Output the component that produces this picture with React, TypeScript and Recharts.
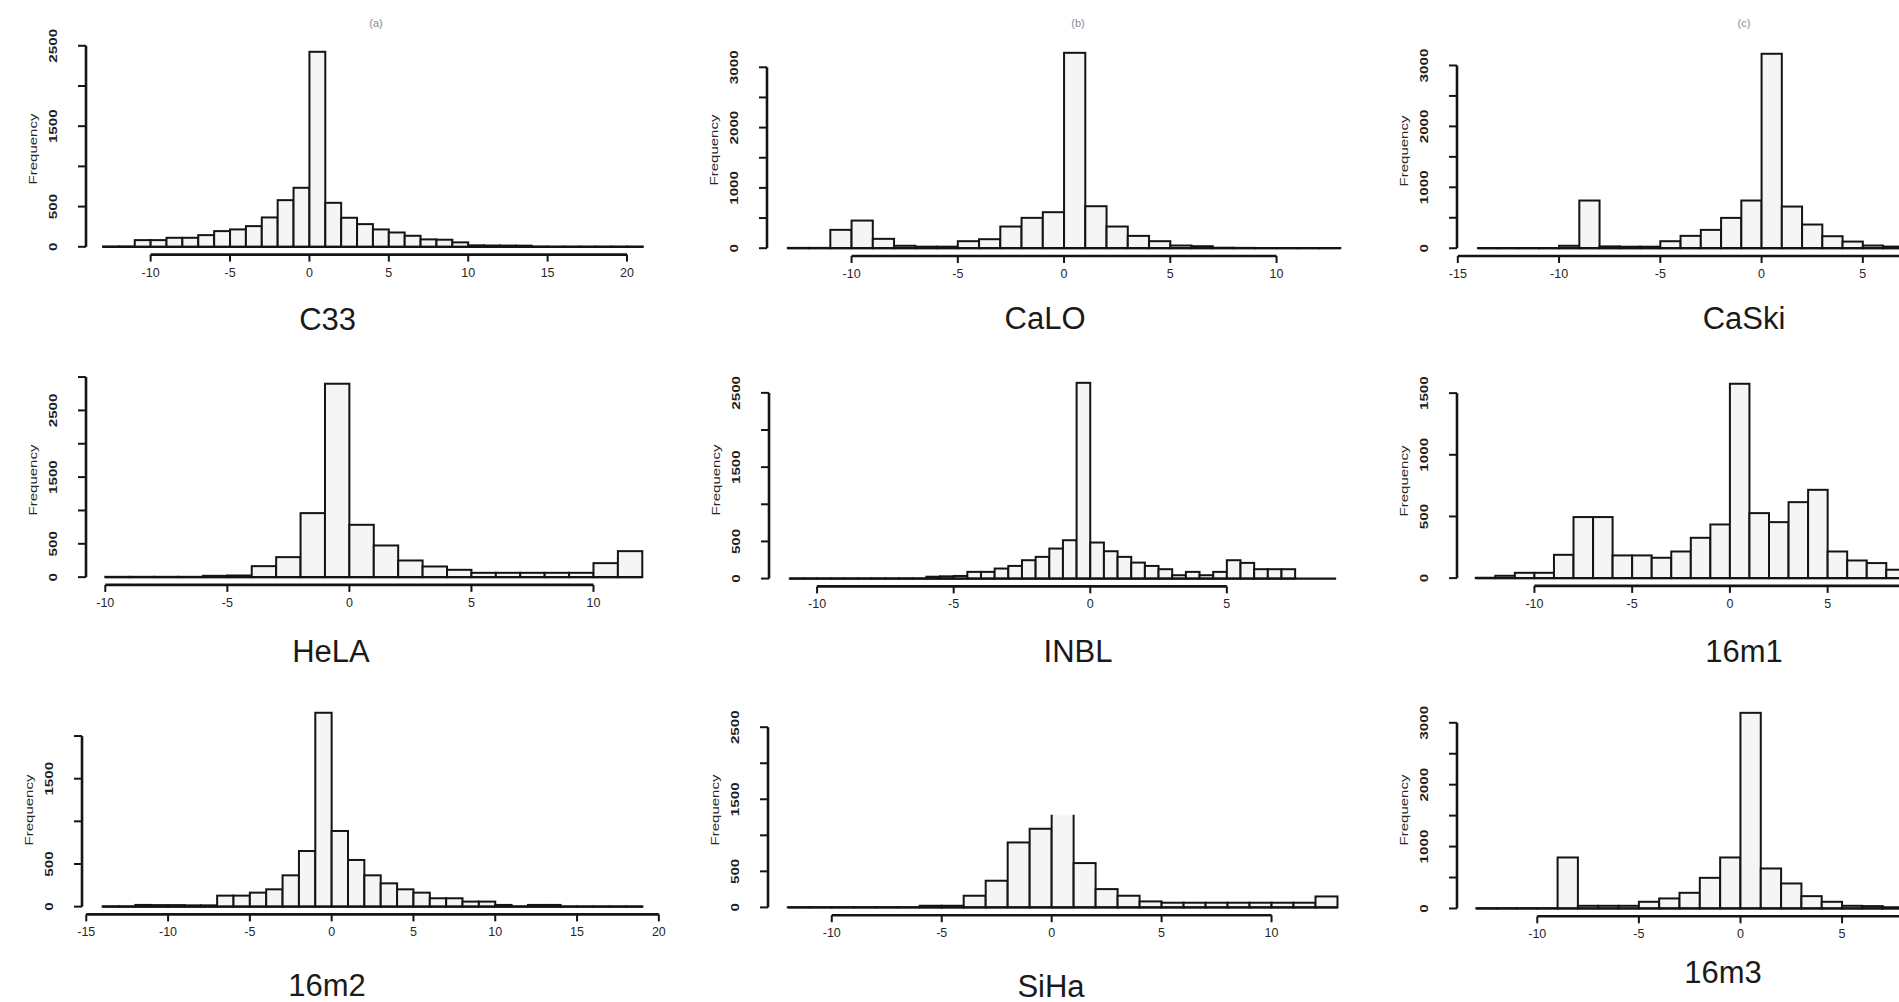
import React from 'react';
import { ComposedChart, Bar, XAxis, YAxis, ReferenceLine } from 'recharts';

// ---------- C33 ----------
const c33Breaks = [-13, -12, -11, -10, -9, -8, -7, -6, -5, -4, -3, -2, -1, 0, 1, 2, 3, 4, 5, 6, 7, 8, 9, 10, 11, 12, 13, 14, 15, 16, 17, 18, 19, 20, 21];
const c33Counts = [3, 4, 83, 83, 112, 112, 145, 195, 216, 257, 365, 580, 734, 2425, 547, 361, 282, 216, 178, 137, 92, 88, 55, 18, 16, 15, 14, 3, 2, 2, 2, 2, 2, 2];
const c33XTicks = [-10, -5, 0, 5, 10, 15, 20];
const c33XLabels = [-10, -5, 0, 5, 10, 15, 20];
const c33YTicks = [0, 500, 1000, 1500, 2000, 2500];
const c33YLabels = [0, 500, 1500, 2500];
const c33XLim = [-14.07, 22.36];
const c33YLim = [0, 2425];

// ---------- CaLO ----------
const caloBreaks = [-13, -12, -11, -10, -9, -8, -7, -6, -5, -4, -3, -2, -1, 0, 1, 2, 3, 4, 5, 6, 7, 8, 9, 10, 11, 12, 13];
const caloCounts = [5, 5, 304, 458, 155, 40, 25, 25, 116, 149, 359, 503, 597, 3240, 696, 359, 204, 116, 44, 33, 8, 5, 3, 3, 3, 3];
const caloXTicks = [-10, -5, 0, 5, 10];
const caloXLabels = [-10, -5, 0, 5, 10];
const caloYTicks = [0, 500, 1000, 1500, 2000, 2500, 3000];
const caloYLabels = [0, 1000, 2000, 3000];
const caloXLim = [-13.98, 14.04];
const caloYLim = [0, 3240];

// ---------- CaSki ----------
const caskiBreaks = [-14, -13, -12, -11, -10, -9, -8, -7, -6, -5, -4, -3, -2, -1, 0, 1, 2, 3, 4, 5, 6, 7, 8, 9, 10, 11];
const caskiCounts = [3, 3, 3, 3, 40, 783, 30, 25, 25, 115, 203, 301, 498, 783, 3192, 684, 389, 197, 109, 44, 27, 20, 10, 5, 3];
const caskiXTicks = [-15, -10, -5, 0, 5, 10];
const caskiXLabels = [-15, -10, -5, 0, 5];
const caskiYTicks = [0, 500, 1000, 1500, 2000, 2500, 3000];
const caskiYLabels = [0, 1000, 2000, 3000];
const caskiXLim = [-15.04, 12];
const caskiYLim = [0, 3192];

// ---------- HeLA ----------
const helaBreaks = [-10, -9, -8, -7, -6, -5, -4, -3, -2, -1, 0, 1, 2, 3, 4, 5, 6, 7, 8, 9, 10, 11, 12];
const helaCounts = [5, 5, 5, 5, 20, 25, 165, 300, 960, 2900, 785, 475, 250, 160, 110, 65, 65, 65, 65, 65, 210, 390];
const helaXTicks = [-10, -5, 0, 5, 10];
const helaXLabels = [-10, -5, 0, 5, 10];
const helaYTicks = [0, 500, 1000, 1500, 2000, 2500, 3000];
const helaYLabels = [0, 500, 1500, 2500];
const helaXLim = [-10.79, 12.88];
const helaYLim = [0, 2900];

// ---------- INBL ----------
const inblBreaks = [-11, -10.5, -10, -9.5, -9, -8.5, -8, -7.5, -7, -6.5, -6, -5.5, -5, -4.5, -4, -3.5, -3, -2.5, -2, -1.5, -1, -0.5, 0, 0.5, 1, 1.5, 2, 2.5, 3, 3.5, 4, 4.5, 5, 5.5, 6, 6.5, 7, 7.5, 8, 8.5, 9];
const inblCounts = [2, 2, 2, 2, 2, 2, 2, 2, 2, 2, 25, 30, 35, 90, 90, 135, 170, 247, 292, 404, 516, 2635, 485, 368, 292, 215, 170, 126, 45, 90, 45, 90, 247, 211, 126, 126, 126, 0, 0, 0];
const inblXTicks = [-10, -5, 0, 5];
const inblXLabels = [-10, -5, 0, 5];
const inblYTicks = [0, 500, 1000, 1500, 2000, 2500];
const inblYLabels = [0, 500, 1500, 2500];
const inblXLim = [-11.76, 9.8];
const inblYLim = [0, 2635];

// ---------- 16m1 ----------
const m1Breaks = [-13, -12, -11, -10, -9, -8, -7, -6, -5, -4, -3, -2, -1, 0, 1, 2, 3, 4, 5, 6, 7, 8, 9, 10];
const m1Counts = [3, 19, 43, 43, 189, 495, 495, 184, 184, 165, 216, 327, 435, 1576, 527, 454, 616, 716, 216, 143, 122, 68, 40];
const m1XTicks = [-10, -5, 0, 5, 10];
const m1XLabels = [-10, -5, 0, 5];
const m1YTicks = [0, 500, 1000, 1500];
const m1YLabels = [0, 500, 1000, 1500];
const m1XLim = [-13.96, 10.92];
const m1YLim = [0, 1576];

// ---------- 16m2 ----------
const m2Breaks = [-14, -13, -12, -11, -10, -9, -8, -7, -6, -5, -4, -3, -2, -1, 0, 1, 2, 3, 4, 5, 6, 7, 8, 9, 10, 11, 12, 13, 14, 15, 16, 17, 18, 19];
const m2Counts = [3, 3, 20, 18, 18, 15, 15, 129, 129, 164, 203, 367, 652, 2273, 887, 547, 367, 273, 203, 164, 98, 98, 59, 59, 20, 3, 20, 20, 2, 2, 2, 2, 2];
const m2XTicks = [-15, -10, -5, 0, 5, 10, 15, 20];
const m2XLabels = [-15, -10, -5, 0, 5, 10, 15, 20];
const m2YTicks = [0, 500, 1000, 1500, 2000];
const m2YLabels = [0, 500, 1500];
const m2XLim = [-15.26, 20.32];
const m2YLim = [0, 2273];

// ---------- SiHa ----------
const sihaBreaks = [-12, -11, -10, -9, -8, -7, -6, -5, -4, -3, -2, -1, 0, 1, 2, 3, 4, 5, 6, 7, 8, 9, 10, 11, 12, 13];
const sihaCounts = [2, 2, 2, 2, 2, 2, 23, 23, 162, 370, 901, 1091, 1285, 615, 254, 162, 83, 65, 65, 65, 65, 65, 65, 65, 152];
const sihaXTicks = [-10, -5, 0, 5, 10];
const sihaXLabels = [-10, -5, 0, 5, 10];
const sihaYTicks = [0, 500, 1000, 1500, 2000, 2500];
const sihaYLabels = [0, 500, 1500, 2500];
const sihaXLim = [-12.9, 14];
const sihaYLim = [0, 2700];

// ---------- 16m3 ----------
const m3Breaks = [-13, -12, -11, -10, -9, -8, -7, -6, -5, -4, -3, -2, -1, 0, 1, 2, 3, 4, 5, 6, 7, 8, 9, 10, 11];
const m3Counts = [3, 3, 3, 3, 824, 43, 43, 43, 108, 162, 253, 495, 824, 3161, 646, 404, 199, 108, 43, 38, 20, 10, 5, 3];
const m3XTicks = [-10, -5, 0, 5, 10];
const m3XLabels = [-10, -5, 0, 5];
const m3YTicks = [0, 500, 1000, 1500, 2000, 2500, 3000];
const m3YLabels = [0, 1000, 2000, 3000];
const m3XLim = [-13.95, 11.96];
const m3YLim = [0, 3161];

const panelNames = ['C33', 'CaLO', 'CaSki', 'HeLA', 'INBL', '16m1', '16m2', 'SiHa', '16m3'];
const smallTags = ['(a)', '(b)', '(c)'];

const FONT = '"Liberation Sans", Arial, Helvetica, sans-serif';
const INK = '#141414';
const BAR_FILL = '#f5f5f5';
const Y_AXIS_W = 80;
const X_AXIS_H = 40;
const TOP_PAD = 24;
const RIGHT_PAD = 24;

const panels = [
  { name: panelNames[0], breaks: c33Breaks, counts: c33Counts, xTicks: c33XTicks, xLabels: c33XLabels, yTicks: c33YTicks, yLabels: c33YLabels, xlim: c33XLim, ylim: c33YLim, openTop: [] as number[], box: { left: 86, top: 43.9, width: 578.5, height: 210.6 }, title: { x: 327.6, y: 319 } },
  { name: panelNames[1], breaks: caloBreaks, counts: caloCounts, xTicks: caloXTicks, xLabels: caloXLabels, yTicks: caloYTicks, yLabels: caloYLabels, xlim: caloXLim, ylim: caloYLim, openTop: [] as number[], box: { left: 767, top: 44.5, width: 595.4, height: 211 }, title: { x: 1045, y: 318 } },
  { name: panelNames[2], breaks: caskiBreaks, counts: caskiCounts, xTicks: caskiXTicks, xLabels: caskiXLabels, yTicks: caskiYTicks, yLabels: caskiYLabels, xlim: caskiXLim, ylim: caskiYLim, openTop: [] as number[], box: { left: 1457, top: 45.5, width: 547.6, height: 210 }, title: { x: 1744, y: 318 } },
  { name: panelNames[3], breaks: helaBreaks, counts: helaCounts, xTicks: helaXTicks, xLabels: helaXLabels, yTicks: helaYTicks, yLabels: helaYLabels, xlim: helaXLim, ylim: helaYLim, openTop: [] as number[], box: { left: 86, top: 375.5, width: 577.8, height: 208.9 }, title: { x: 331, y: 651 } },
  { name: panelNames[4], breaks: inblBreaks, counts: inblCounts, xTicks: inblXTicks, xLabels: inblXLabels, yTicks: inblYTicks, yLabels: inblYLabels, xlim: inblXLim, ylim: inblYLim, openTop: [] as number[], box: { left: 769, top: 374.7, width: 589, height: 211.4 }, title: { x: 1078, y: 651 } },
  { name: panelNames[5], breaks: m1Breaks, counts: m1Counts, xTicks: m1XTicks, xLabels: m1XLabels, yTicks: m1YTicks, yLabels: m1YLabels, xlim: m1XLim, ylim: m1YLim, openTop: [] as number[], box: { left: 1457, top: 375.6, width: 486.4, height: 209.9 }, title: { x: 1744, y: 651 } },
  { name: panelNames[6], breaks: m2Breaks, counts: m2Counts, xTicks: m2XTicks, xLabels: m2XLabels, yTicks: m2YTicks, yLabels: m2YLabels, xlim: m2XLim, ylim: m2YLim, openTop: [] as number[], box: { left: 82.4, top: 705.1, width: 582.1, height: 209.4 }, title: { x: 327, y: 985 } },
  { name: panelNames[7], breaks: sihaBreaks, counts: sihaCounts, xTicks: sihaXTicks, xLabels: sihaXLabels, yTicks: sihaYTicks, yLabels: sihaYLabels, xlim: sihaXLim, ylim: sihaYLim, openTop: [12], box: { left: 768, top: 705.2, width: 591.5, height: 210.2 }, title: { x: 1051, y: 986 } },
  { name: panelNames[8], breaks: m3Breaks, counts: m3Counts, xTicks: m3XTicks, xLabels: m3XLabels, yTicks: m3YTicks, yLabels: m3YLabels, xlim: m3XLim, ylim: m3YLim, openTop: [] as number[], box: { left: 1456.6, top: 704.8, width: 526.5, height: 211.3 }, title: { x: 1723, y: 972 } },
];

const tagPositions = [
  { x: 376, y: 23 },
  { x: 1078, y: 23 },
  { x: 1744, y: 23 },
];

const makeXTick = (labels: number[]) => (props: any) => {
  const { x, y, payload } = props;
  if (!labels.includes(payload.value)) return <g />;
  return (
    <text x={x} y={y + 13} textAnchor="middle" fontSize={12.5} fill="#262626" fontFamily={FONT}>
      {payload.value}
    </text>
  );
};

const makeYTick = (labels: number[]) => (props: any) => {
  const { x, y, payload } = props;
  if (!labels.includes(payload.value)) return <g />;
  const X = x - 19;
  return (
    <text
      transform={`translate(${X},${y}) rotate(-90) scale(1.45,1)`}
      x={0}
      y={0}
      textAnchor="middle"
      fontSize={10.5}
      fontWeight="bold"
      fill="#1e1e1e"
      fontFamily={FONT}
    >
      {payload.value}
    </text>
  );
};

const makeBarShape = (openTop: number[]) => (props: any) => {
  const { x, y, width, height, index } = props;
  if (!height || height <= 0 || !width) return <g />;
  if (openTop.includes(index)) {
    return (
      <g>
        <rect x={x} y={y} width={width} height={height} fill={BAR_FILL} stroke="none" />
        <path
          d={`M${x},${y + height} L${x},${y} M${x + width},${y} L${x + width},${y + height} M${x},${y + height} L${x + width},${y + height}`}
          stroke={INK}
          strokeWidth={2}
          fill="none"
        />
      </g>
    );
  }
  return <rect x={x} y={y} width={width} height={height} fill={BAR_FILL} stroke={INK} strokeWidth={2} />;
};

function Histogram({ p }: { p: any }) {
  const data = p.counts.map((c: number, i: number) => ({
    mid: (p.breaks[i] + p.breaks[i + 1]) / 2,
    count: c,
  }));
  const span = p.ylim[1] - p.ylim[0];
  const yDomain = [p.ylim[0] - 0.04 * span, p.ylim[1] + 0.04 * span];
  const binW = p.breaks[1] - p.breaks[0];
  const barSize = (p.box.width * binW) / (p.xlim[1] - p.xlim[0]) - 0.02;
  const chartW = p.box.width + Y_AXIS_W + RIGHT_PAD;
  const chartH = p.box.height + X_AXIS_H + TOP_PAD;
  const lastB = p.breaks[p.breaks.length - 1];
  const YTick = makeYTick(p.yLabels);
  const XTick = makeXTick(p.xLabels);
  const BarShape = makeBarShape(p.openTop);
  return (
    <div style={{ position: 'absolute', left: p.box.left - Y_AXIS_W, top: p.box.top - TOP_PAD, width: chartW, height: chartH }}>
      <ComposedChart
        width={chartW}
        height={chartH}
        data={data}
        margin={{ top: TOP_PAD, right: RIGHT_PAD, bottom: 0, left: 0 }}
        barCategoryGap={0}
        barGap={0}
      >
        <XAxis
          type="number"
          dataKey="mid"
          domain={p.xlim}
          allowDataOverflow
          ticks={p.xTicks}
          interval={0}
          axisLine={false}
          tickLine={{ stroke: INK, strokeWidth: 2 }}
          tickSize={7}
          height={X_AXIS_H}
          tick={<XTick />}
        />
        <YAxis
          type="number"
          domain={yDomain}
          allowDataOverflow
          ticks={p.yTicks}
          interval={0}
          axisLine={false}
          tickLine={{ stroke: INK, strokeWidth: 2 }}
          tickSize={8}
          width={Y_AXIS_W}
          tick={<YTick />}
        />
        <Bar
          dataKey="count"
          fill={BAR_FILL}
          stroke={INK}
          strokeWidth={2}
          barSize={barSize}
          shape={<BarShape />}
          isAnimationActive={false}
        />
        <ReferenceLine
          segment={[{ x: p.breaks[0], y: 0 }, { x: lastB, y: 0 }]}
          stroke={INK}
          strokeWidth={2.2}
          ifOverflow="visible"
        />
        <ReferenceLine
          segment={[{ x: p.xTicks[0], y: yDomain[0] }, { x: p.xTicks[p.xTicks.length - 1], y: yDomain[0] }]}
          stroke={INK}
          strokeWidth={2.6}
          ifOverflow="visible"
        />
        <ReferenceLine
          segment={[{ x: p.xlim[0], y: p.yTicks[0] }, { x: p.xlim[0], y: p.yTicks[p.yTicks.length - 1] }]}
          stroke={INK}
          strokeWidth={2.6}
          ifOverflow="visible"
        />
      </ComposedChart>
      <div
        style={{
          position: 'absolute',
          left: Y_AXIS_W - 52,
          top: TOP_PAD + p.box.height / 2,
          width: 0,
          height: 0,
        }}
      >
        <div
          style={{
            position: 'absolute',
            left: 0,
            top: 0,
            transform: 'translate(-50%, -50%) rotate(-90deg) scaleX(1.5)',
            fontFamily: FONT,
            fontSize: 10,
            lineHeight: '10px',
            whiteSpace: 'nowrap',
            color: '#262626',
          }}
        >
          Frequency
        </div>
      </div>
    </div>
  );
}

function Title({ text, x, y, size, color }: { text: string; x: number; y: number; size: number; color: string }) {
  return (
    <div style={{ position: 'absolute', left: x, top: y, width: 0, height: 0 }}>
      <div
        style={{
          position: 'absolute',
          left: 0,
          top: 0,
          transform: 'translate(-50%, -50%)',
          fontFamily: FONT,
          fontSize: size,
          lineHeight: `${size}px`,
          whiteSpace: 'nowrap',
          color,
        }}
      >
        {text}
      </div>
    </div>
  );
}

export default function App() {
  return (
    <div
      style={{
        position: 'absolute',
        left: 0,
        top: 0,
        width: 1899,
        height: 1002,
        overflow: 'hidden',
        background: '#ffffff',
      }}
    >
      {panels.map((p) => (
        <Histogram key={p.name} p={p} />
      ))}
      {panels.map((p) => (
        <Title key={'t' + p.name} text={p.name} x={p.title.x} y={p.title.y} size={31} color="#1a1a1a" />
      ))}
      {smallTags.map((t, i) => (
        <Title key={t} text={t} x={tagPositions[i].x} y={tagPositions[i].y} size={11} color="#8a8a8a" />
      ))}
    </div>
  );
}
